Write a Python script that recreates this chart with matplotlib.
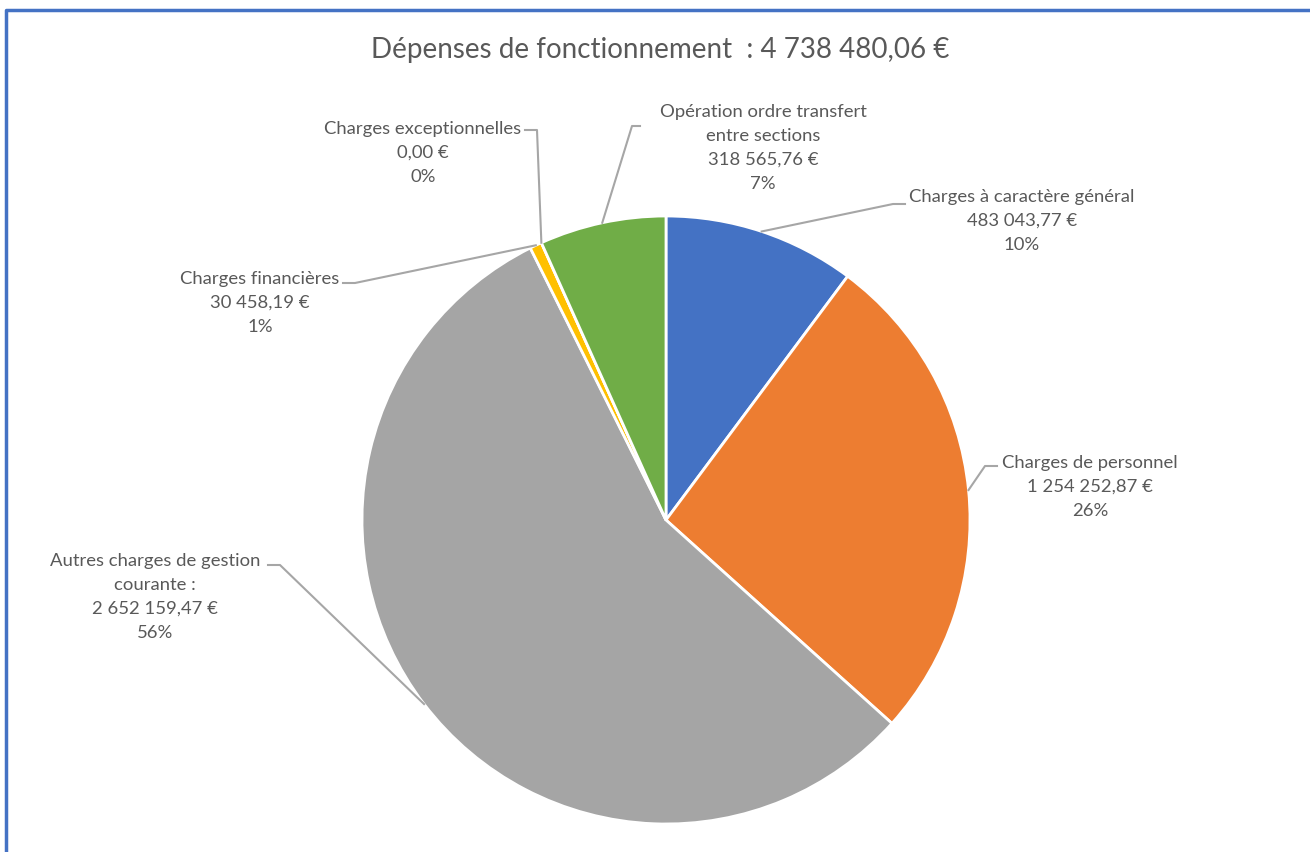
import numpy as np
import matplotlib
matplotlib.use("Agg")
import matplotlib.pyplot as plt

# données du graphique
categories = ["Charges à caractère général", "Charges de personnel",
              "Autres charges de gestion\ncourante :", "Charges financières",
              "Charges exceptionnelles", "Opération ordre transfert\nentre sections"]
montants = [483043.77, 1254252.87, 2652159.47, 30458.19, 0.00, 318565.76]
valeurs_txt = ["483 043,77 €", "1 254 252,87 €", "2 652 159,47 €",
               "30 458,19 €", "0,00 €", "318 565,76 €"]
pourcentages = ["10%", "26%", "56%", "1%", "0%", "7%"]
couleurs = ["#4472C4", "#ED7D31", "#A5A5A5", "#FFC000", "#5B9BD5", "#70AD47"]
titre = "Dépenses de fonctionnement  : 4 738 480,06 €"

plt.rcParams['font.family'] = ['Lato', 'DejaVu Sans']

W, H = 1310, 852
fig = plt.figure(figsize=(W / 100, H / 100), dpi=100)
ax = fig.add_axes([0, 0, 1, 1])

# cadre bleu (haut et gauche)
ax.plot([6, 6, W], [0, H - 10, H - 10], color="#4472C4", lw=2.5, solid_capstyle='butt')

cx, cy, r = 666, H - 520, 304
wedges, _ = ax.pie(montants, colors=couleurs, startangle=90, counterclock=False,
                   center=(cx, cy), radius=r, frame=True,
                   wedgeprops=dict(edgecolor="white", linewidth=2))
ax.set_xlim(0, W)
ax.set_ylim(0, H)
ax.set_aspect('auto')
ax.axis('off')

ax.text(660, H - 50, titre, ha='center', va='center', fontsize=20, color="#595959")

# positions des étiquettes (pixels image) : coude de la ligne, fin, centre du texte, y de la 1re ligne
etiquettes = [
    ((893, 204), (905, 204), 1022, 195),
    ((985, 466), (997, 466), 1090, 461),
    ((280, 565), (268, 565), 155, 559),
    ((355, 283), (343, 283), 260, 277),
    ((537, 130), (525, 130), 423, 127),
    ((632, 126), (640, 126), 763, 110),
]

for w, cat, val, pct, (coude, fin, tx, ty) in zip(wedges, categories, valeurs_txt,
                                                   pourcentages, etiquettes):
    ang = np.deg2rad((w.theta1 + w.theta2) / 2)
    x0, y0 = cx + r * np.cos(ang), cy + r * np.sin(ang)
    ax.plot([x0, coude[0], fin[0]], [y0, H - coude[1], H - fin[1]],
            color="#A6A6A6", lw=1.5)
    texte = cat + "\n" + val + "\n" + pct
    ax.text(tx, H - ty + 6, texte, ha='center', va='top', fontsize=13.3,
            color="#595959", linespacing=1.62)

fig.savefig("out.png", dpi=100)
